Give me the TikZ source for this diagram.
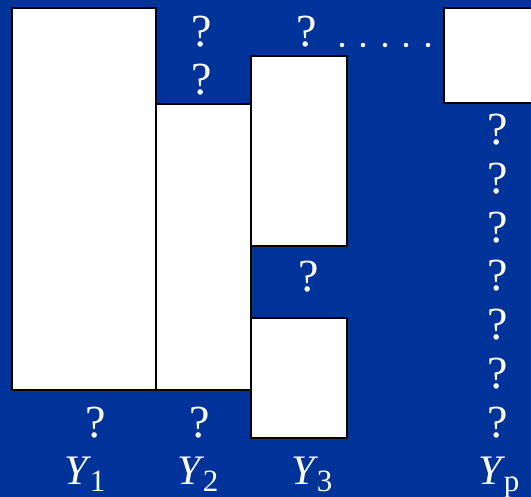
\documentclass[tikz,border=0pt]{standalone}
\usepackage{fontspec}
\setmainfont{Liberation Serif}
\definecolor{bgblue}{RGB}{0,51,153}
\begin{document}
\begin{tikzpicture}[x=1pt,y=-1pt,
  box/.style={fill=white,draw=black,line width=1.6pt},
  qm/.style={text=white,inner sep=0pt,anchor=base,font=\fontsize{46}{50}\selectfont},
  lab/.style={text=white,inner sep=0pt,anchor=base,font=\fontsize{42}{46}\selectfont},
  dotm/.style={circle,fill=white,inner sep=0pt,minimum size=4.5pt}]
\fill[bgblue] (0,0) rectangle (531,497);
\useasboundingbox (0,0) rectangle (531,497);
% boxes
\draw[box] (12,8) rectangle (156,390);
\draw[box] (156,104) rectangle (251,390);
\draw[box] (251,56) rectangle (347,246);
\draw[box] (251,318) rectangle (347,438);
\draw[box] (444,8) rectangle (540,103);
% question marks
\node[qm] (q1) at (202,47) {?};
\node[qm] (q2) at (202,95) {?};
\node[qm] (q3) at (307,47) {?};
\node[qm] (q4) at (309,292) {?};
\node[qm] (q5) at (96,438) {?};
\node[qm] (q6) at (200,438) {?};
\foreach \i/\yy in {1/145,2/194,3/243,4/291,5/340,6/389,7/438}{
  \node[qm] (r\i) at (498,\yy) {?};
}
% dots
\foreach \i/\xx in {1/342,2/363,3/385,4/406,5/428}{
  \node[dotm] (d\i) at (\xx,45) {};
}
% labels
\node[lab] (y1) at (85,485) {\textit{Y}\kern-2pt\raisebox{-6.5pt}{\fontsize{31}{31}\selectfont 1}};
\node[lab] (y2) at (198,485) {\textit{Y}\kern-2pt\raisebox{-6.5pt}{\fontsize{31}{31}\selectfont 2}};
\node[lab] (y3) at (312,485) {\textit{Y}\kern-2pt\raisebox{-6.5pt}{\fontsize{31}{31}\selectfont 3}};
\node[lab] (yp) at (499,485) {\textit{Y}\kern-2pt\raisebox{-6.5pt}{\fontsize{31}{31}\selectfont p}};
\end{tikzpicture}
\end{document}
